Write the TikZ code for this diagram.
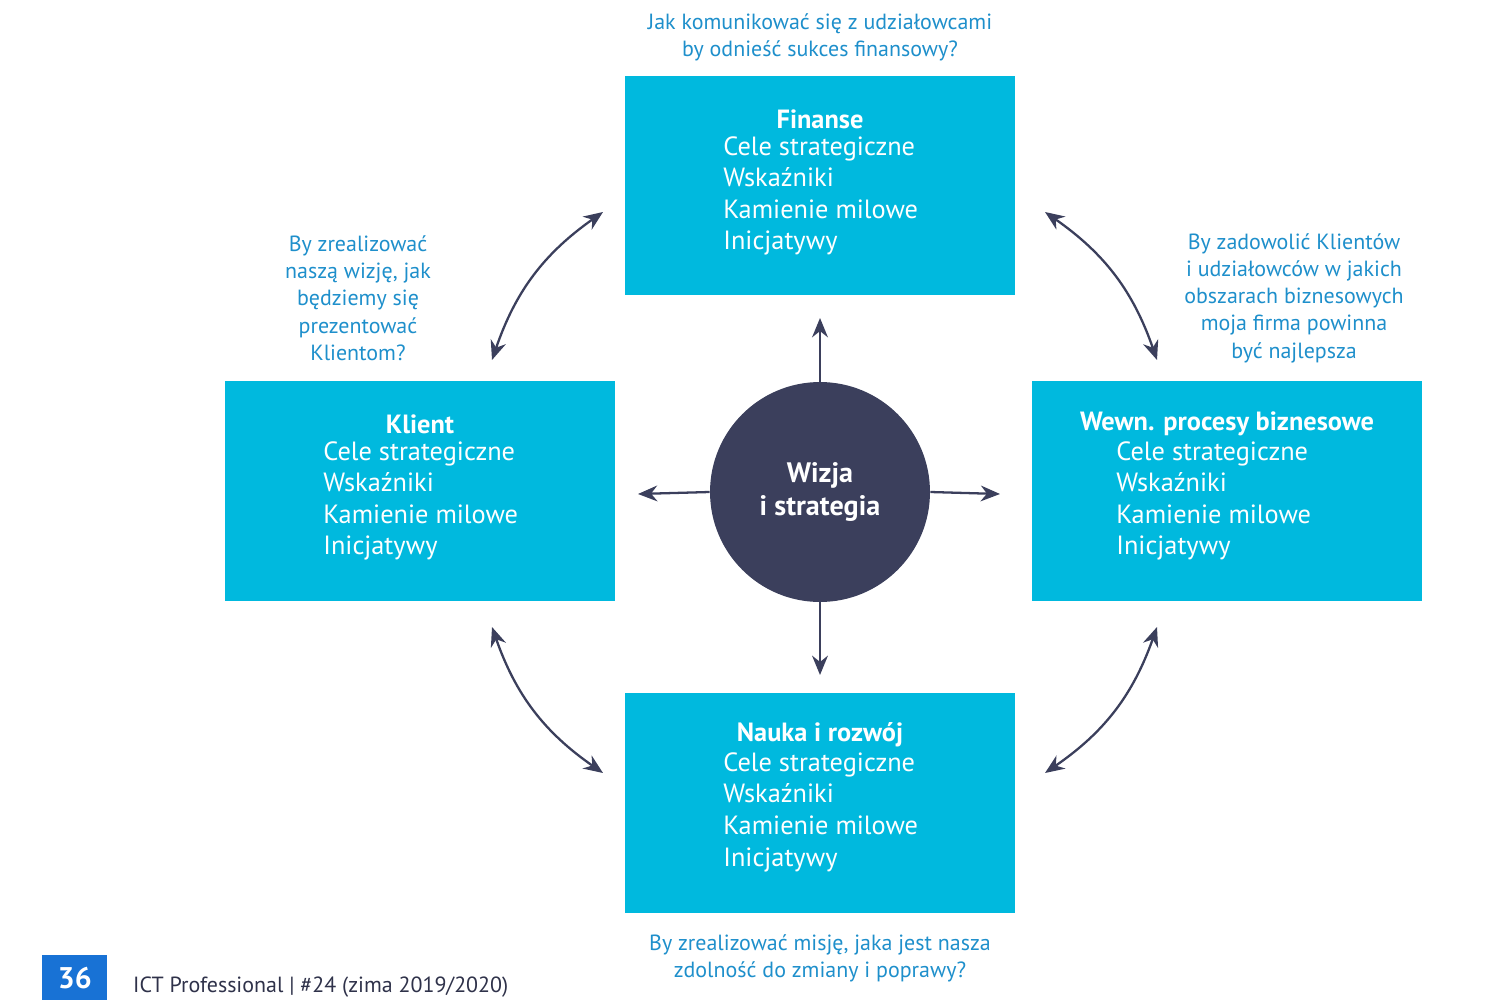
\documentclass[tikz,border=0pt]{standalone}
\usepackage{fontspec}
\setmainfont{PT Sans}
\usetikzlibrary{arrows.meta}
\definecolor{cy}{HTML}{00B9DE}
\definecolor{dk}{HTML}{3B3F5C}
\definecolor{lb}{HTML}{1E8FCB}
\begin{document}
\begin{tikzpicture}[x=0.02cm,y=-0.02cm,
 box/.style={fill=cy,draw=none,minimum width=7.8cm,minimum height=4.4cm,inner sep=0},
 ttl/.style={text=white,font=\bfseries\fontsize{15}{18}\selectfont},
 body/.style={text=white,align=left,font=\fontsize{15}{18}\selectfont,anchor=north west,inner sep=0},
 lab/.style={text=lb,align=center,font=\fontsize{12.5}{15.5}\selectfont},
 arr/.style={dk,line width=1.3pt,-{Stealth[length=11pt,width=9pt]}},
 darr/.style={dk,line width=1.3pt,{Stealth[length=11pt,width=9pt]}-{Stealth[length=11pt,width=9pt]}}]
\useasboundingbox (0,0) rectangle (1500,1000);
\newcommand\bodytext{Cele strategiczne\\Wskaźniki\\Kamienie milowe\\Inicjatywy}
\node[box] (fin) at (820,185.5) {};
\node[box] (kli) at (420,491) {};
\node[box] (wew) at (1227,491) {};
\node[box] (nau) at (820,803) {};
\node[ttl] (fint) at (820,119) {Finanse};
\node[body] (finb) at (723,136) {\bodytext};
\node[ttl] (klit) at (420,424) {Klient};
\node[body] (klib) at (323,441) {\bodytext};
\node[ttl] (wewt) at (1227,424) {Wewn. procesy biznesowe};
\node[body] (wewb) at (1116,441) {\bodytext};
\node[ttl] (naut) at (820,735) {Nauka i rozwój};
\node[body] (naub) at (723,752) {\bodytext};
\node[circle,fill=dk,minimum size=4.4cm,inner sep=0,text=white,align=center,
 font=\bfseries\fontsize{16}{19}\selectfont] (c) at (820,492) {Wizja\\i strategia};
\coordinate (u) at (820,318); \coordinate (d) at (820,675);
\coordinate (l) at (638,494); \coordinate (r) at (1000,494);
\draw[arr] (c.north) -- (u);
\draw[arr] (c.south) -- (d);
\draw[arr] (c.west) -- (l);
\draw[arr] (c.east) -- (r);
\coordinate (a1) at (492,360); \coordinate (a2) at (603,212);
\coordinate (b1) at (1045,212); \coordinate (b2) at (1157,360);
\coordinate (c1) at (492,627); \coordinate (c2) at (603,773);
\coordinate (d1) at (1045,773); \coordinate (d2) at (1157,627);
\draw[darr] (a1) to[bend left=18] (a2);
\draw[darr] (b1) to[bend left=18] (b2);
\draw[darr] (c1) to[bend right=18] (c2);
\draw[darr] (d1) to[bend right=18] (d2);
\node[lab] (l1) at (820,37) {Jak komunikować się z udziałowcami\\by odnieść sukces finansowy?};
\node[lab] (l2) at (358,298) {By zrealizować\\naszą wizję, jak\\będziemy się\\prezentować\\Klientom?};
\node[lab] (l3) at (1294,298) {By zadowolić Klientów\\i udziałowców w jakich\\obszarach biznesowych\\moja firma powinna\\być najlepsza};
\node[lab] (l4) at (820,958) {By zrealizować misję, jaka jest nasza\\zdolność do zmiany i poprawy?};
\node[fill=lb!80!blue,minimum width=1.3cm,minimum height=0.9cm,inner sep=0,anchor=north west,
 text=white,font=\bfseries\fontsize{17}{17}\selectfont] (pg) at (42,955) {36};
\node[anchor=west,text=dk!80!black,font=\fontsize{12.5}{15}\selectfont] (ft) at (127,987) {ICT Professional | \#24 (zima 2019/2020)};
\end{tikzpicture}
\end{document}
